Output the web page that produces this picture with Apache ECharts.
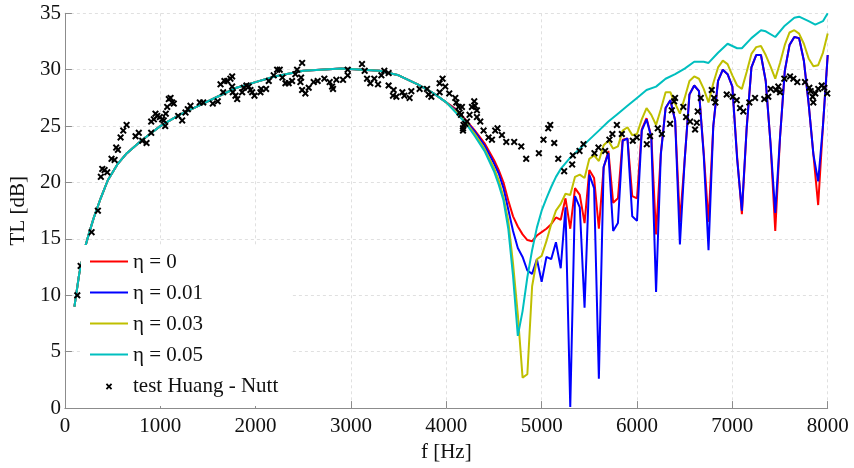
<!DOCTYPE html>
<html>
<head>
<meta charset="utf-8">
<script src="https://cdn.jsdelivr.net/npm/echarts@6/dist/echarts.min.js"></script>
<style>html,body{margin:0;padding:0;background:#fff}#c{width:854px;height:468px}</style>
</head>
<body>
<div id="c"></div>
<script>
// shared low-frequency part (all four curves coincide)
var baseF  = [100,150,200,250,300,375,450,550,650,800,1000,1200,1400,1600,1800,2000,2200,2500,2900,3300,3500,3700,3850,4000];
var baseTL = [9.0,11.9,13.9,15.4,16.8,18.6,20.2,21.6,22.6,23.7,25.0,26.0,26.8,27.6,28.4,28.9,29.4,29.9,30.1,29.9,29.5,28.7,28.0,27.1];

var eta0 = [[4100,26.5],[4200,25.6],[4300,24.6],[4400,23.5],[4500,22.0],[4550,21.1],[4600,20.0],[4650,18.4],[4700,17.0],[4750,16.1],[4800,15.4],[4850,14.9],[4900,14.8],[4950,15.3],[5000,15.6],[5050,15.9],[5100,16.3],[5150,16.9],[5200,16.7],[5250,18.6],[5300,15.9],[5350,19.5],[5400,18.9],[5450,16.4],[5500,21.1],[5550,20.4],[5600,15.9],[5650,21.3],[5700,22.8],[5750,18.2],[5800,18.6],[5850,23.8],[5900,23.9],[5950,18.8],[6000,18.6],[6050,24.7],[6100,25.7],[6150,24.1],[6200,15.4],[6250,22.6],[6300,26.6],[6350,27.3],[6400,25.5],[6450,16.5],[6500,22.0],[6550,27.8],[6600,28.6],[6650,28.1],[6700,22.6],[6750,16.5],[6800,25.0],[6850,29.0],[6900,30.0],[6950,29.6],[7000,28.5],[7050,22.3],[7100,17.2],[7150,24.8],[7200,30.2],[7250,31.3],[7300,31.3],[7350,29.0],[7400,23.5],[7450,15.7],[7500,24.0],[7550,29.9],[7600,32.2],[7650,32.9],[7700,32.8],[7750,30.8],[7800,27.0],[7850,22.5],[7900,18.0],[7950,25.0],[8000,31.3]];

var eta001 = [[4100,26.4],[4200,25.5],[4300,24.5],[4400,23.3],[4500,21.7],[4550,20.8],[4600,19.5],[4650,17.6],[4700,15.7],[4750,14.2],[4800,13.4],[4850,12.2],[4900,11.9],[4950,13.2],[5000,11.2],[5050,13.4],[5100,13.2],[5150,14.7],[5200,12.4],[5250,17.8],[5300,0.1],[5350,18.8],[5400,17.8],[5450,8.9],[5500,20.7],[5550,19.5],[5600,2.6],[5650,21.4],[5700,22.6],[5750,15.7],[5800,16.4],[5850,23.7],[5900,23.9],[5950,17.0],[6000,16.6],[6050,24.6],[6100,25.6],[6150,24.0],[6200,10.3],[6250,22.5],[6300,26.6],[6350,27.3],[6400,25.5],[6450,14.5],[6500,22.0],[6550,27.8],[6600,28.6],[6650,28.1],[6700,22.4],[6750,14.0],[6800,25.0],[6850,29.0],[6900,30.0],[6950,29.6],[7000,28.5],[7050,22.1],[7100,17.5],[7150,24.8],[7200,30.2],[7250,31.3],[7300,31.3],[7350,29.0],[7400,23.5],[7450,17.3],[7500,24.0],[7550,29.9],[7600,32.2],[7650,32.9],[7700,32.8],[7750,30.8],[7800,27.0],[7850,22.5],[7900,20.1],[7950,25.0],[8000,31.3]];

var eta003 = [[4100,26.3],[4200,25.4],[4300,24.3],[4400,23.0],[4500,21.3],[4550,20.2],[4600,18.7],[4650,16.6],[4700,12.8],[4750,8.3],[4800,2.7],[4850,3.0],[4900,10.8],[4950,13.2],[5000,13.5],[5050,14.8],[5100,16.3],[5150,17.5],[5200,18.1],[5250,19.0],[5300,18.9],[5350,20.5],[5400,20.7],[5450,20.4],[5500,22.1],[5550,22.4],[5600,21.9],[5650,23.3],[5700,23.7],[5750,23.0],[5800,23.2],[5850,24.6],[5900,24.9],[5950,24.2],[6000,24.3],[6050,25.6],[6100,26.6],[6150,26.0],[6200,25.1],[6250,26.5],[6300,28.0],[6350,28.0],[6400,27.0],[6450,26.1],[6500,27.5],[6550,29.0],[6600,29.4],[6650,29.2],[6700,28.3],[6750,27.1],[6800,28.8],[6850,30.2],[6900,30.8],[6950,30.5],[7000,29.5],[7050,28.6],[7100,28.3],[7150,29.8],[7200,31.4],[7250,32.0],[7300,32.1],[7350,31.3],[7400,30.3],[7450,29.2],[7500,30.6],[7550,32.2],[7600,33.3],[7650,33.5],[7700,33.2],[7750,32.3],[7800,31.0],[7850,30.3],[7900,30.4],[7950,31.5],[8000,33.2]];

var eta005 = [[4100,26.2],[4200,25.3],[4300,24.1],[4400,22.8],[4500,21.0],[4550,19.8],[4600,18.4],[4650,15.9],[4700,11.7],[4750,6.4],[4800,8.6],[4850,11.6],[4900,14.0],[4950,16.0],[5000,17.5],[5050,18.6],[5100,19.6],[5150,20.5],[5200,21.2],[5300,22.2],[5400,23.0],[5500,23.8],[5600,24.6],[5700,25.4],[5800,26.1],[5900,26.8],[6000,27.5],[6100,28.2],[6200,28.5],[6300,29.2],[6400,29.6],[6500,30.1],[6600,30.7],[6700,30.7],[6750,30.6],[6850,31.5],[6950,32.3],[7050,31.9],[7100,31.9],[7200,32.8],[7300,33.5],[7350,33.4],[7450,32.9],[7550,33.9],[7650,34.6],[7700,34.7],[7800,34.3],[7870,34.0],[7950,34.3],[8000,35.0]];

var testHN = [[130,10.0],[165,12.6],[280,15.6],[346,17.5],[377,20.5],[392,21.2],[416,21.1],[444,20.9],[489,22.1],[521,22.0],[538,23.1],[556,22.9],[584,24.0],[612,24.6],[647,25.1],[741,24.1],[775,24.4],[811,23.7],[856,23.5],[905,24.4],[905,25.4],[933,25.6],[950,26.1],[968,25.9],[996,25.8],[1020,25.6],[1037,25.5],[1052,25.0],[1058,26.1],[1073,26.7],[1090,27.4],[1108,27.5],[1125,27.1],[1142,27.0],[1188,25.9],[1230,25.5],[1265,26.2],[1289,26.5],[1317,26.8],[1415,27.1],[1450,27.1],[1551,27.0],[1603,27.2],[1632,28.7],[1660,28.0],[1673,29.0],[1702,29.0],[1736,29.2],[1754,29.4],[1754,28.5],[1761,28.0],[1789,27.7],[1807,27.4],[1859,28.0],[1876,28.4],[1904,28.6],[1928,28.5],[1946,28.2],[1964,28.0],[1988,27.7],[2051,28.0],[2058,28.3],[2110,28.3],[2138,29.0],[2190,29.5],[2226,30.0],[2253,30.0],[2281,29.3],[2313,28.8],[2347,28.8],[2383,29.0],[2417,29.6],[2435,30.0],[2470,28.9],[2477,29.3],[2488,30.6],[2488,28.2],[2522,27.9],[2557,28.4],[2609,28.9],[2651,29.0],[2721,29.2],[2777,28.9],[2802,28.5],[2812,28.3],[2847,29.1],[2917,29.1],[2966,29.5],[2966,30.0],[3116,30.5],[3144,29.9],[3169,29.2],[3203,28.8],[3245,29.2],[3284,28.7],[3319,29.5],[3350,29.9],[3395,29.7],[3395,28.6],[3448,28.2],[3441,27.7],[3476,27.6],[3539,28.0],[3560,27.7],[3615,27.5],[3633,28.1],[3720,28.3],[3798,28.3],[3814,27.8],[3843,27.6],[3930,28.8],[3961,29.2],[3989,28.5],[3930,28.0],[4031,27.9],[4094,27.5],[4105,27.1],[4129,26.7],[4139,26.2],[4154,26.0],[4164,26.7],[4181,25.1],[4175,24.8],[4175,24.6],[4199,25.2],[4217,25.4],[4244,26.0],[4269,26.7],[4293,27.2],[4300,26.8],[4321,26.4],[4321,25.8],[4356,25.4],[4391,24.6],[4443,24.0],[4479,23.8],[4513,24.6],[4537,24.8],[4583,24.2],[4629,23.6],[4712,23.6],[4786,23.2],[4838,22.1],[4971,22.6],[5019,23.8],[5069,24.8],[5090,25.1],[5132,23.5],[5174,22.1],[5236,21.0],[5320,21.6],[5327,22.4],[5397,22.8],[5439,23.4],[5554,22.6],[5596,23.1],[5666,22.8],[5711,23.8],[5742,24.3],[5789,25.1],[5841,24.3],[5956,23.7],[5998,24.0],[6103,23.4],[6137,24.1],[6218,24.8],[6260,24.3],[6347,25.2],[6365,26.4],[6389,27.2],[6399,27.5],[6486,26.7],[6515,25.8],[6557,25.4],[6609,24.7],[6627,25.3],[6637,26.3],[6669,27.5],[6784,28.2],[6808,27.5],[6822,27.1],[6941,27.8],[7004,27.6],[7046,27.3],[7081,26.6],[7115,26.3],[7178,27.1],[7238,27.5],[7335,27.4],[7377,27.6],[7402,28.3],[7458,28.2],[7482,28.5],[7500,28.0],[7545,29.2],[7605,29.4],[7640,29.2],[7681,28.9],[7762,28.9],[7807,28.4],[7821,28.1],[7842,27.6],[7849,27.1],[7870,27.9],[7901,28.3],[7937,28.6],[7964,28.4],[7995,27.9]];

var seriesNames = ['\u03b7 = 0','\u03b7 = 0.01','\u03b7 = 0.03','\u03b7 = 0.05','test Huang - Nutt'];
var xTicks = [0,1000,2000,3000,4000,5000,6000,7000,8000];
var yTicks = [0,5,10,15,20,25,30,35];

function withBase(hi){
  var out = [];
  for (var i=0;i<baseF.length;i++) out.push([baseF[i], baseTL[i]]);
  return out.concat(hi);
}

var FONT = 'Liberation Serif';
var xPath = 'path://M0,2 L2,0 L5,3 L8,0 L10,2 L7,5 L10,8 L8,10 L5,7 L2,10 L0,8 L3,5 Z';
var xPathLegend = 'path://M-6,-6 M16,16 M0,2 L2,0 L5,3 L8,0 L10,2 L7,5 L10,8 L8,10 L5,7 L2,10 L0,8 L3,5 Z';
var linePathLegend = 'path://M0,-6 M38,8 M0,-1 L38,-1 L38,1 L0,1 Z';

var chart = echarts.init(document.getElementById('c'), null, {renderer:'canvas'});
function lineSeries(name, data, color){
  return {name:name, type:'line', data:withBase(data), symbol:'none', showSymbol:false,
    lineStyle:{color:color, width:2}, itemStyle:{color:color}, animation:false, clip:true, z:2};
}
function tickFmt(v){ return String(v); }
chart.setOption({
  animation:false,
  backgroundColor:'#fff',
  grid:{left:64.3, right:26.3, top:13.3, bottom:55.3},
  xAxis:{type:'value', min:xTicks[0], max:xTicks[xTicks.length-1], interval:1000,
    name:'f [Hz]', nameLocation:'middle', nameGap:28,
    nameTextStyle:{fontFamily:FONT, fontSize:21, color:'#111'},
    axisLine:{show:true, onZero:false, lineStyle:{color:'#8c8c8c', width:1}},
    axisTick:{show:true, inside:true, length:7, lineStyle:{color:'#8c8c8c'}},
    axisLabel:{fontFamily:FONT, fontSize:21, color:'#111', margin:8, formatter:tickFmt},
    splitLine:{show:true, lineStyle:{color:'#e0e0e0', type:[3,3], width:1}}},
  yAxis:{type:'value', min:yTicks[0], max:yTicks[yTicks.length-1], interval:5,
    name:'TL [dB]', nameLocation:'middle', nameGap:30,
    nameTextStyle:{fontFamily:FONT, fontSize:21, color:'#111'},
    axisLine:{show:true, onZero:false, lineStyle:{color:'#8c8c8c', width:1}},
    axisTick:{show:true, inside:true, length:7, lineStyle:{color:'#8c8c8c'}},
    axisLabel:{fontFamily:FONT, fontSize:21, color:'#111', margin:4, formatter:tickFmt},
    splitLine:{show:true, lineStyle:{color:'#e0e0e0', type:[3,3], width:1}}},
  legend:{orient:'vertical', left:81, top:245, padding:[7,14,9,9], itemGap:10,
    itemWidth:38, itemHeight:14, backgroundColor:'#fff', borderWidth:0,
    selectedMode:false,
    textStyle:{fontFamily:FONT, fontSize:21, color:'#111', lineHeight:20},
    data:[{name:seriesNames[0], icon:linePathLegend},{name:seriesNames[1], icon:linePathLegend},
      {name:seriesNames[2], icon:linePathLegend},{name:seriesNames[3], icon:linePathLegend},
      {name:seriesNames[4], icon:xPathLegend, itemStyle:{color:'#000'}}]},
  series:[
    lineSeries(seriesNames[0], eta0, '#ff0000'),
    lineSeries(seriesNames[1], eta001, '#0000ff'),
    lineSeries(seriesNames[2], eta003, '#bfbf00'),
    lineSeries(seriesNames[3], eta005, '#00bfbf'),
    {name:seriesNames[4], type:'scatter', data:testHN, symbol:xPath, symbolSize:7,
      itemStyle:{color:'#000', opacity:1}, animation:false, z:3}
  ]
});
</script>
</body>
</html>
